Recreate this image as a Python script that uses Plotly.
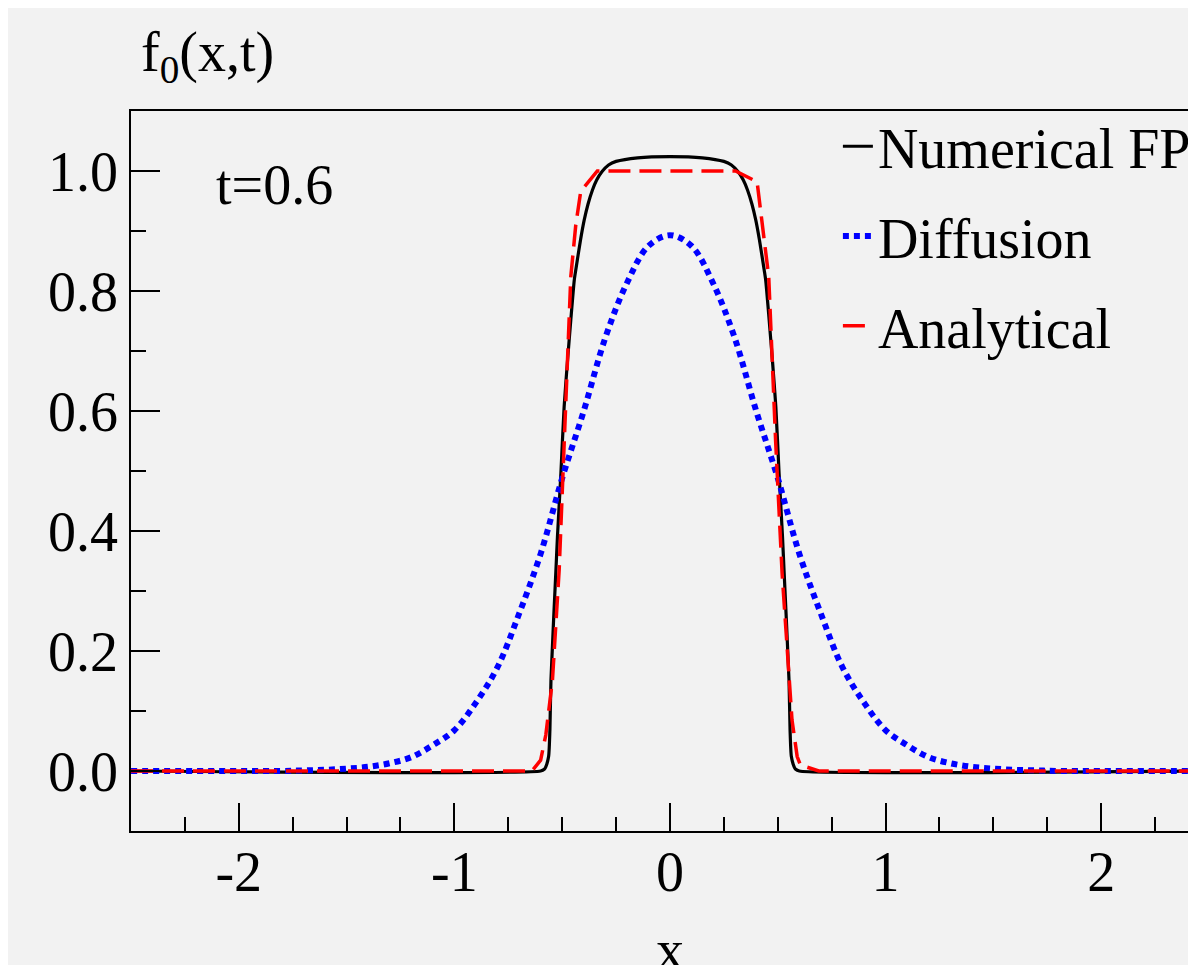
import plotly.graph_objects as go

# ---------------- data ----------------
fp_x = [-2.5, -0.600, -0.583, -0.576, -0.563, -0.557, -0.552, -0.529, -0.522, -0.506,
        -0.491, -0.475, -0.460, -0.444, -0.437, -0.415, -0.398, -0.380, -0.360, -0.340,
        -0.315, -0.285, -0.250, -0.150, 0.0,
        0.150, 0.250, 0.285, 0.315, 0.340, 0.360, 0.380, 0.398, 0.415, 0.437, 0.444, 0.460,
        0.475, 0.491, 0.506, 0.522, 0.529, 0.552, 0.557, 0.563, 0.576, 0.583, 0.600, 2.5]
fp_y = [0.0, 0.0, 0.003, 0.007, 0.024, 0.068, 0.152, 0.335, 0.390, 0.496,
        0.607, 0.685, 0.752, 0.818, 0.835, 0.885, 0.918, 0.945, 0.968, 0.985,
        0.999, 1.010, 1.016, 1.022, 1.024,
        1.022, 1.016, 1.010, 0.999, 0.985, 0.968, 0.945, 0.918, 0.885, 0.835, 0.818, 0.752,
        0.685, 0.607, 0.496, 0.390, 0.335, 0.152, 0.068, 0.024, 0.007, 0.003, 0.0, 0.0]

diff_x = [-2.5, -2.0, -1.8, -1.7, -1.6, -1.5, -1.4, -1.3, -1.2, -1.1, -1.0, -0.9, -0.8,
          -0.7, -0.6, -0.5, -0.4, -0.3, -0.2, -0.1, 0.0,
          0.1, 0.2, 0.3, 0.4, 0.5, 0.6, 0.7, 0.8, 0.9, 1.0, 1.1, 1.2, 1.3, 1.4,
          1.5, 1.6, 1.7, 1.8, 2.0, 2.5]
diff_y = [0.0, 0.0, 0.0, 0.001, 0.002, 0.004, 0.007, 0.013, 0.023, 0.043, 0.068, 0.114, 0.173,
          0.262, 0.362, 0.488, 0.600, 0.722, 0.813, 0.875, 0.893,
          0.875, 0.813, 0.722, 0.600, 0.488, 0.362, 0.262, 0.173, 0.114, 0.068, 0.043, 0.023, 0.013, 0.007,
          0.004, 0.002, 0.001, 0.0, 0.0, 0.0]

ana_x = [-2.5, -0.640, -0.600, -0.576, -0.545, -0.514, -0.460, -0.437, -0.414, -0.337,
         0.304, 0.404, 0.458, 0.490, 0.520, 0.551, 0.566, 0.590, 0.605, 0.690, 2.5]
ana_y = [0.0, 0.0, 0.018, 0.060, 0.152, 0.335, 0.824, 0.910, 0.966, 1.000,
         1.000, 0.982, 0.824, 0.550, 0.330, 0.152, 0.085, 0.024, 0.010, 0.0, 0.0]

series_names = ["Numerical FP", "Diffusion", "Analytical"]

x_tick_vals = [-2, -1, 0, 1, 2]
x_tick_text = ["-2", "-1", "0", "1", "2"]
y_tick_vals = [0.0, 0.2, 0.4, 0.6, 0.8, 1.0]
y_tick_text = ["0.0", "0.2", "0.4", "0.6", "0.8", "1.0"]

# ---------------- figure ----------------
FONT = "Liberation Serif"
FS = 56
BG = "#f2f2f2"

fig = go.Figure()
fig.add_trace(go.Scatter(x=fp_x, y=fp_y, mode="lines", name=series_names[0],
                         line=dict(color="black", width=3.2, shape="spline", smoothing=0.6),
                         legendgroup="a"))
fig.add_trace(go.Scatter(x=diff_x, y=diff_y, mode="lines", name=series_names[1],
                         line=dict(color="#0000ff", width=6, dash="6px,5px", shape="spline"),
                         legendgroup="b"))
fig.add_trace(go.Scatter(x=ana_x, y=ana_y, mode="lines", name=series_names[2],
                         line=dict(color="#ff0000", width=3.5, dash="22px,9px"),
                         legendgroup="c"))

fig.update_layout(
    width=1188, height=957,
    margin=dict(l=123, r=0, t=103, b=134),
    paper_bgcolor=BG, plot_bgcolor=BG,
    font=dict(family=FONT, size=FS, color="black"),
    showlegend=True,
    legend=dict(x=0.665, y=1.0106, xanchor="left", yanchor="top",
                bgcolor="rgba(0,0,0,0)", borderwidth=0,
                font=dict(family=FONT, size=FS, color="black"),
                traceorder="grouped", tracegroupgap=14),
    xaxis=dict(range=[-2.5, 2.4306], showgrid=False, zeroline=False,
               showline=True, linecolor="black", linewidth=1.5, mirror=True,
               ticks="inside", ticklen=28, tickwidth=1.5, tickcolor="black",
               tickmode="array", tickvals=x_tick_vals, ticktext=x_tick_text,
               ticklabelstandoff=-9,
               minor=dict(ticks="inside", ticklen=14, tickwidth=1.5, tickcolor="black",
                          dtick=0.25, tick0=0, showgrid=False),
               tickfont=dict(family=FONT, size=FS)),
    yaxis=dict(range=[-0.1, 1.1], showgrid=False, zeroline=False,
               showline=True, linecolor="black", linewidth=1.5, mirror=False,
               ticks="inside", ticklen=29, tickwidth=1.5, tickcolor="black",
               tickmode="array", tickvals=y_tick_vals, ticktext=y_tick_text,
               ticklabelstandoff=0,
               minor=dict(ticks="inside", ticklen=15, tickwidth=1.5, tickcolor="black",
                          dtick=0.1, tick0=0, showgrid=False),
               tickfont=dict(family=FONT, size=FS)),
)

fig.add_annotation(text="f<sub>0</sub>(x,t)", xref="paper", yref="paper",
                   x=0.0075, y=1.0762, xanchor="left", yanchor="middle",
                   showarrow=False, font=dict(family=FONT, size=FS))
fig.add_annotation(text="t=0.6", xref="paper", yref="paper",
                   x=0.078, y=0.897, xanchor="left", yanchor="middle",
                   showarrow=False, font=dict(family=FONT, size=FS))
fig.add_annotation(text="x", xref="paper", yref="paper",
                   x=(671 - 131) / 1065, y=-0.165, xanchor="center", yanchor="middle",
                   showarrow=False, font=dict(family=FONT, size=FS))

fig.write_html("out.html")
